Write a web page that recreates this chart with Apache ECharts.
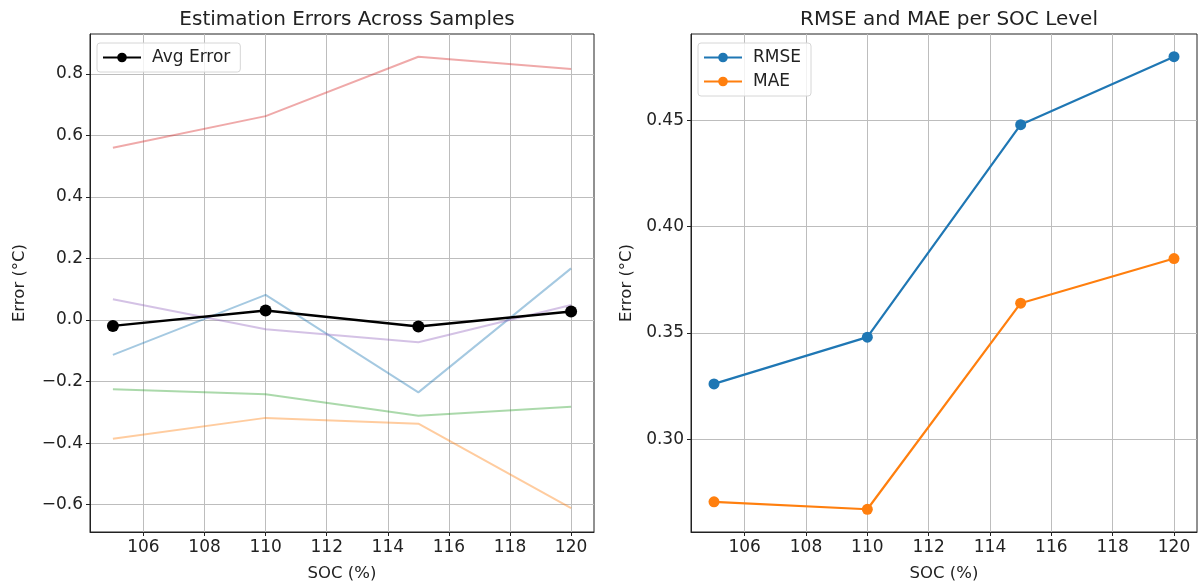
<!DOCTYPE html>
<html>
<head>
<meta charset="utf-8">
<script src="https://cdn.jsdelivr.net/npm/echarts@6/dist/echarts.min.js"></script>
<style>html,body{margin:0;padding:0;background:#fff}#c{width:1198px;height:587px}</style>
</head>
<body>
<div id="c"></div>
<script>
// ---- data ----
const socLevels = [105, 110, 115, 120];
const sampleBlue   = [-0.113, 0.082, -0.235, 0.168];
const sampleOrange = [-0.386, -0.318, -0.337, -0.611];
const sampleGreen  = [-0.225, -0.241, -0.311, -0.282];
const sampleRed    = [0.560, 0.663, 0.856, 0.816];
const samplePurple = [0.068, -0.030, -0.072, 0.049];
const avgError     = [-0.019, 0.031, -0.021, 0.028];
const rmse = [0.326, 0.348, 0.448, 0.480];
const mae  = [0.2705, 0.267, 0.364, 0.385];
const xTicks = [106, 108, 110, 112, 114, 116, 118, 120];
const leftYTicks = [-0.6, -0.4, -0.2, 0.0, 0.2, 0.4, 0.6, 0.8];
const rightYTicks = [0.30, 0.35, 0.40, 0.45];

const pairs = (ys) => socLevels.map((x, i) => [x, ys[i]]);
const FONT = 'DejaVu Sans';
const minus = (s) => s.replace('-', '\u2212');

function xAxis(gi) {
  return {
    type: 'value', gridIndex: gi, min: 104.25, max: 120.75,
    name: 'SOC (%)', nameLocation: 'middle', nameGap: 33,
    nameTextStyle: { fontFamily: FONT, fontSize: 16.5, color: '#222' },
    axisLine: { show: true, onZero: false, lineStyle: { color: '#222', width: 1 } },
    axisTick: { show: true, length: 4, customValues: xTicks, lineStyle: { color: '#222' } },
    axisLabel: { customValues: xTicks, fontFamily: FONT, fontSize: 17, color: '#222', margin: 7 },
    splitLine: { show: true, lineStyle: { color: '#bdbdbd', width: 1 } }
  };
}
function yAxis(gi, min, max, ticks, dec, gap) {
  return {
    type: 'value', gridIndex: gi, min: min, max: max,
    name: 'Error (\u00B0C)', nameLocation: 'middle', nameGap: gap, nameRotate: 90,
    nameTextStyle: { fontFamily: FONT, fontSize: 16.5, color: '#222' },
    axisLine: { show: true, onZero: false, lineStyle: { color: '#222', width: 1 } },
    axisTick: { show: true, length: 4, customValues: ticks, lineStyle: { color: '#222' } },
    axisLabel: { customValues: ticks, fontFamily: FONT, fontSize: 17, color: '#222', margin: 7,
      formatter: (v) => minus(Number(v).toFixed(dec)) },
    splitLine: { show: true, lineStyle: { color: '#bdbdbd', width: 1 } }
  };
}
function faint(name, color, data) {
  return { name: name, type: 'line', xAxisIndex: 0, yAxisIndex: 0, data: pairs(data),
    showSymbol: false, symbol: 'none', lineStyle: { color: color, width: 2, opacity: 0.4 },
    itemStyle: { color: color }, silent: true, animation: false, z: 2 };
}

const chart = echarts.init(document.getElementById('c'), null, { renderer: 'canvas' });
chart.setOption({
  backgroundColor: '#fff',
  animation: false,
  title: [
    { text: 'Estimation Errors Across Samples', left: 342, top: 5, textAlign: 'center',
      textStyle: { fontFamily: FONT, fontSize: 20, fontWeight: 'normal', color: '#222' } },
    { text: 'RMSE and MAE per SOC Level', left: 944, top: 5, textAlign: 'center',
      textStyle: { fontFamily: FONT, fontSize: 20, fontWeight: 'normal', color: '#222' } }
  ],
  grid: [
    { left: 90, right: 604, top: 34, bottom: 55, show: true, borderColor: '#222', borderWidth: 1, backgroundColor: 'transparent' },
    { left: 691, right: 1, top: 34, bottom: 55, show: true, borderColor: '#222', borderWidth: 1, backgroundColor: 'transparent' }
  ],
  xAxis: [xAxis(0), xAxis(1)],
  yAxis: [
    yAxis(0, -0.689, 0.93, leftYTicks, 1, 62),
    yAxis(1, 0.2563, 0.4907, rightYTicks, 2, 56)
  ],
  legend: [
    { data: ['Avg Error'], left: 97, top: 43, orient: 'vertical',
      itemWidth: 38, itemHeight: 12, itemGap: 9, padding: [6, 10, 6, 5],
      borderColor: '#d6d6d6', borderWidth: 1, borderRadius: 3, backgroundColor: 'rgba(255,255,255,0.8)',
      textStyle: { fontFamily: FONT, fontSize: 17, color: '#222', padding: [0, 0, 0, 6] } },
    { data: ['RMSE', 'MAE'], left: 698, top: 43, orient: 'vertical',
      itemWidth: 38, itemHeight: 12, itemGap: 7, padding: [6, 10, 6, 5],
      borderColor: '#d6d6d6', borderWidth: 1, borderRadius: 3, backgroundColor: 'rgba(255,255,255,0.8)',
      textStyle: { fontFamily: FONT, fontSize: 17, color: '#222', padding: [0, 0, 0, 6] } }
  ],
  series: [
    faint('s1', '#1f77b4', sampleBlue),
    faint('s2', '#ff7f0e', sampleOrange),
    faint('s3', '#2ca02c', sampleGreen),
    faint('s4', '#d62728', sampleRed),
    faint('s5', '#9467bd', samplePurple),
    { name: 'Avg Error', type: 'line', xAxisIndex: 0, yAxisIndex: 0, data: pairs(avgError),
      symbol: 'circle', symbolSize: 12, lineStyle: { color: '#000', width: 2.4 },
      itemStyle: { color: '#000' }, z: 5 },
    { name: 'RMSE', type: 'line', xAxisIndex: 1, yAxisIndex: 1, data: pairs(rmse),
      symbol: 'circle', symbolSize: 11, lineStyle: { color: '#1f77b4', width: 2.2 },
      itemStyle: { color: '#1f77b4' }, z: 5 },
    { name: 'MAE', type: 'line', xAxisIndex: 1, yAxisIndex: 1, data: pairs(mae),
      symbol: 'circle', symbolSize: 11, lineStyle: { color: '#ff7f0e', width: 2.2 },
      itemStyle: { color: '#ff7f0e' }, z: 5 }
  ]
});
</script>
</body>
</html>
